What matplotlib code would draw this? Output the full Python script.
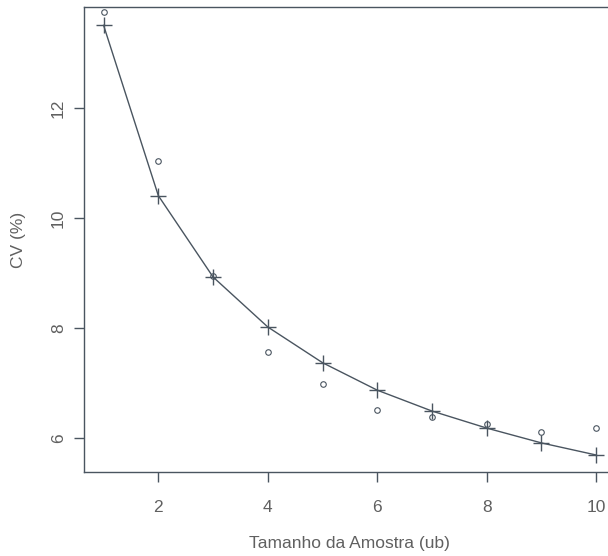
import numpy as np
import matplotlib.pyplot as plt

plt.rcParams['font.family'] = ['Liberation Sans', 'DejaVu Sans']

# tamanho da amostra (unidades basicas)
sizes = [1, 2, 3, 4, 5, 6, 7, 8, 9, 10]
# CV observado (%)
cv_obs = [13.75, 11.05, 8.95, 7.56, 6.98, 6.51, 6.38, 6.25, 6.11, 6.18]
# CV ajustado (%)
cv_fit = [13.51, 10.41, 8.93, 8.02, 7.37, 6.87, 6.49, 6.18, 5.91, 5.69]

ink = '#4a5560'
txt = '#606060'

fig = plt.figure(figsize=(6.08, 5.56), dpi=100)
ax = fig.add_axes([0.138, 0.151, 0.875, 0.836])

ax.plot(sizes, cv_obs, 'o', mfc='none', mec=ink, ms=4, mew=0.8)
ax.plot(sizes, cv_fit, '-', color=ink, lw=1.0)
ax.plot(sizes, cv_fit, '+', color=ink, ms=11, mew=1.0)

ax.set_xlim(0.64, 10.36)
ax.set_ylim(5.38, 13.84)
ax.set_xticks([2, 4, 6, 8, 10])
ax.set_yticks([6, 8, 10, 12])

for s in ax.spines.values():
    s.set_color(ink)
    s.set_linewidth(1.0)
ax.tick_params(direction='out', length=7, width=1.0, color=ink,
               labelcolor=txt, labelsize=12.5)
ax.tick_params(axis='x', pad=13)
ax.tick_params(axis='y', pad=6)
for lab in ax.get_yticklabels():
    lab.set_rotation(90)
    lab.set_va('center')

ax.set_xlabel('Tamanho da Amostra (ub)', fontsize=12.5, color=txt, labelpad=15)
ax.set_ylabel('CV (%)', fontsize=12.5, color=txt, labelpad=18)

fig.savefig('out.png', dpi=100)
